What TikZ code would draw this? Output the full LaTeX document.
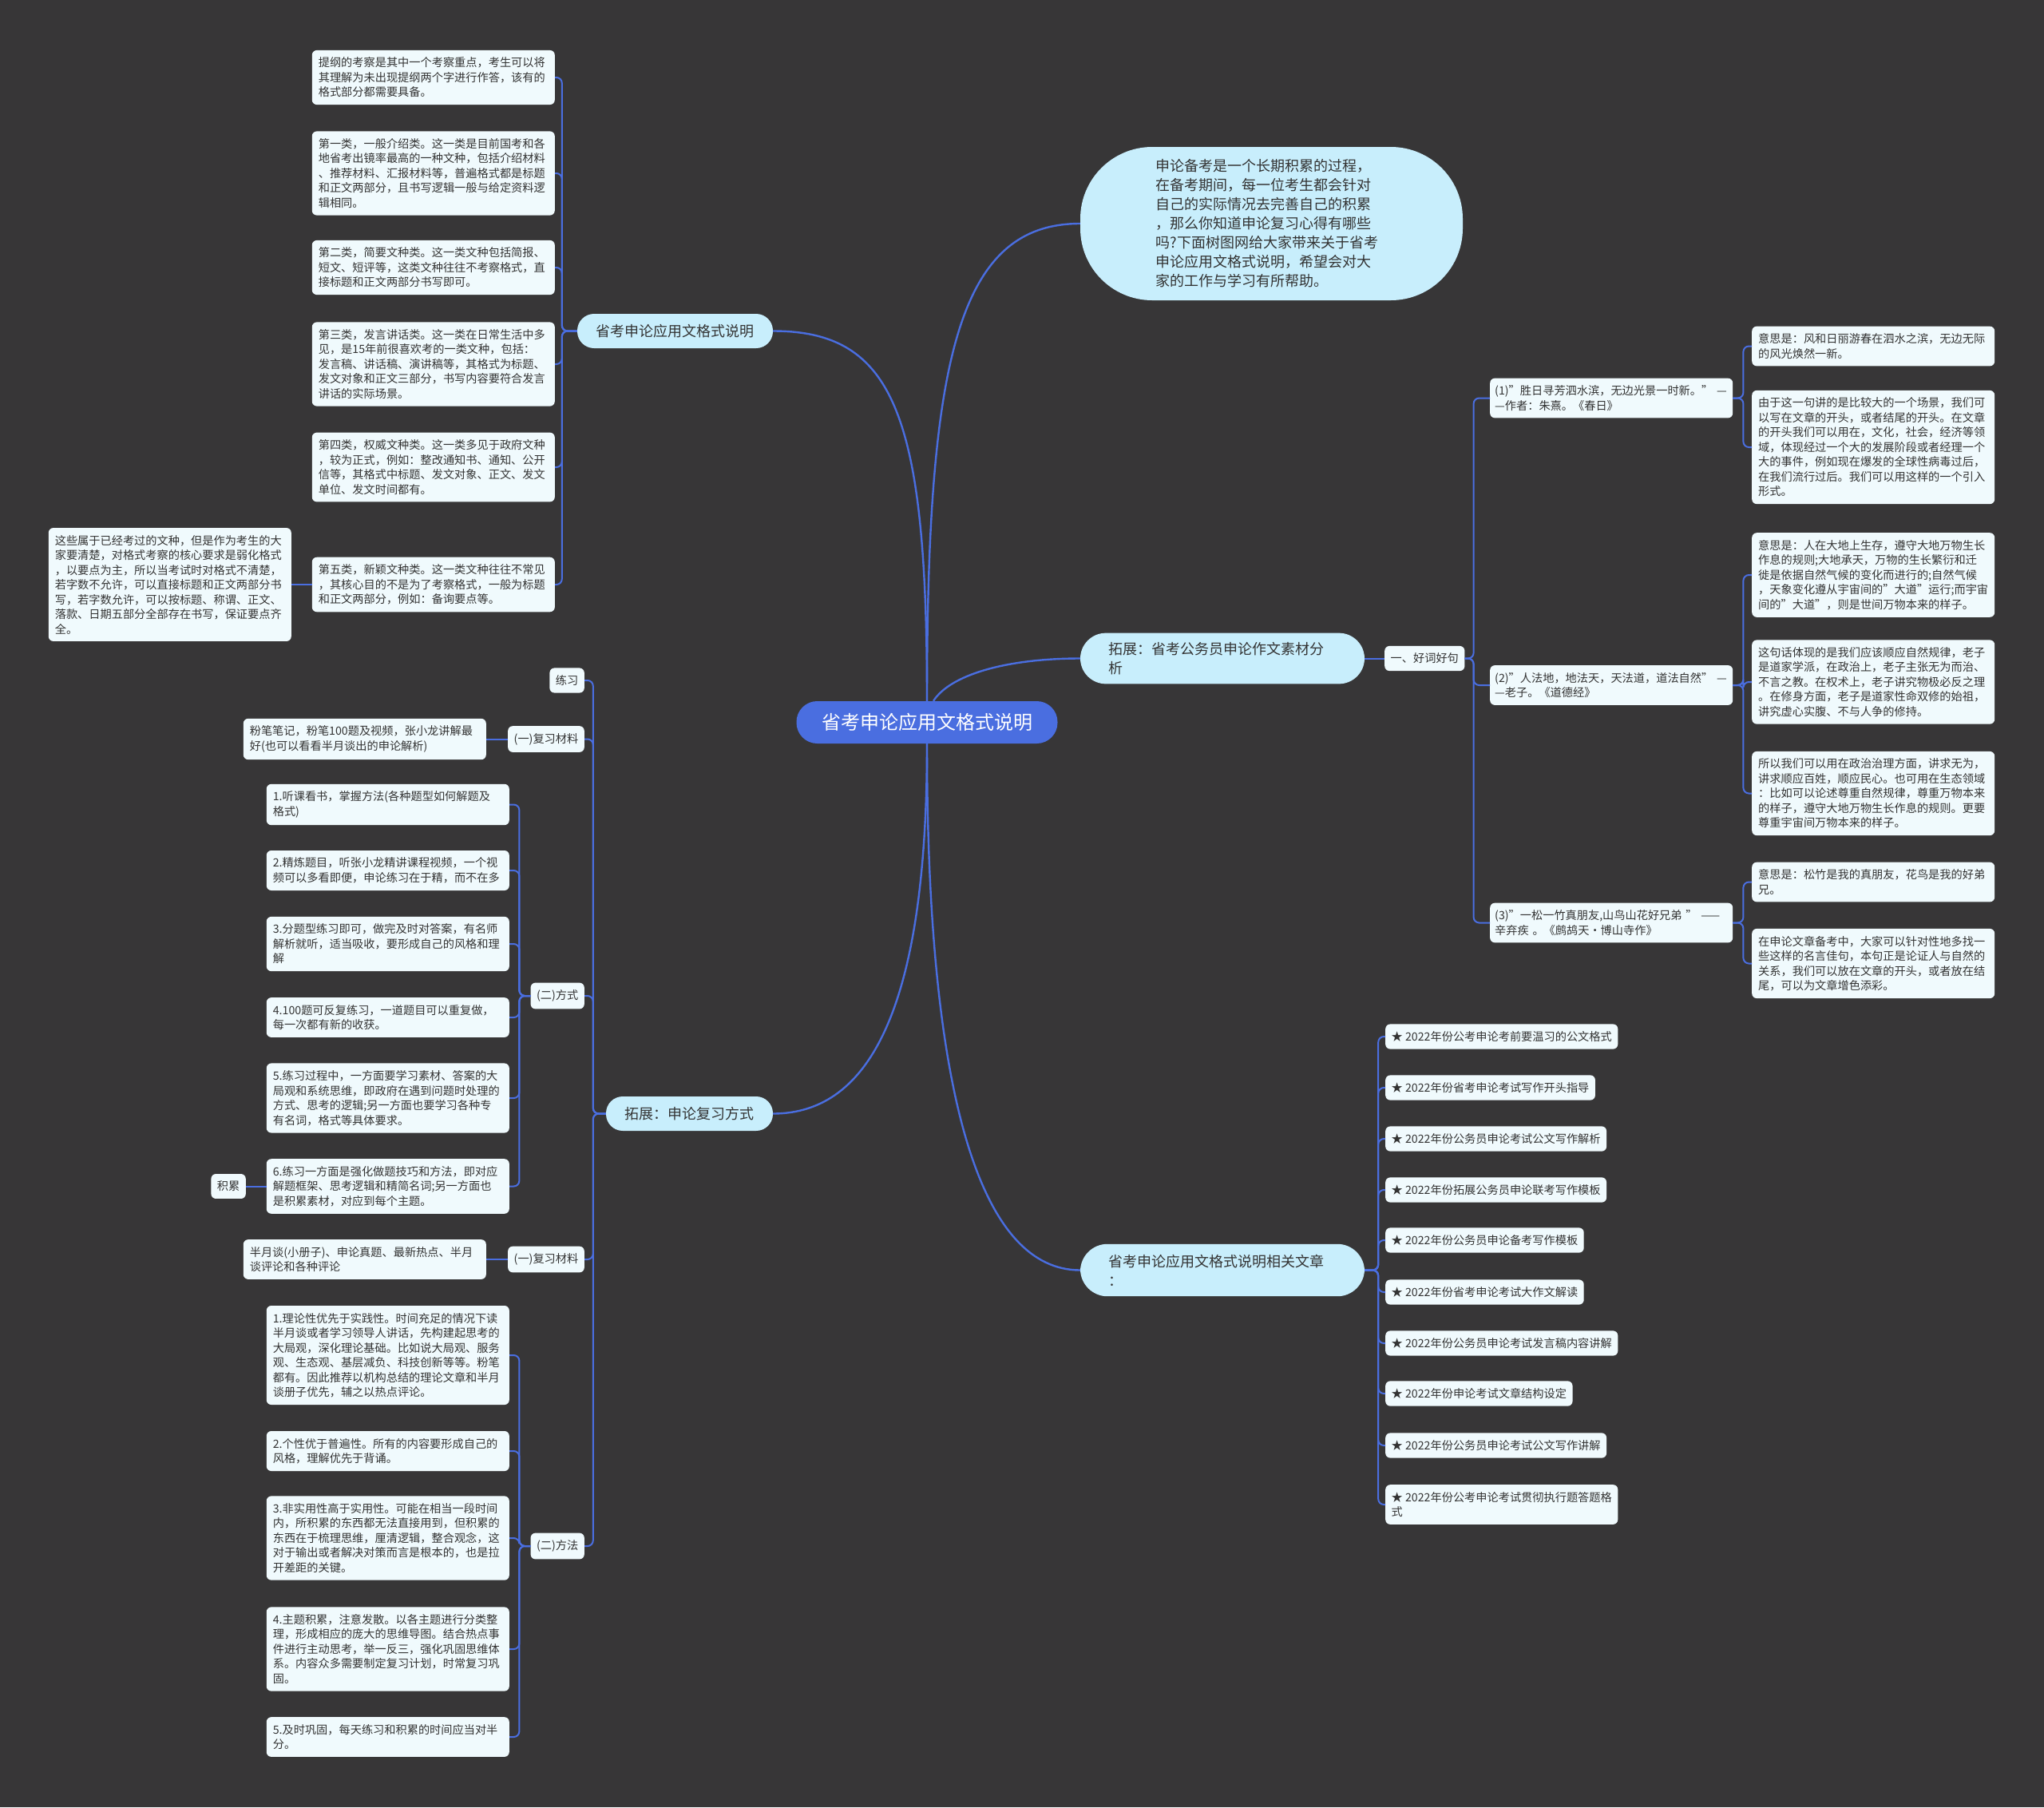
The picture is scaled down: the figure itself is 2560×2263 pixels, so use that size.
\documentclass[tikz,border=0pt]{standalone}
\usepackage{fontspec}
\setmainfont{Noto Sans CJK SC}
\usepackage{xcolor}

\definecolor{bgcol}{HTML}{373637}
\definecolor{linkcol}{HTML}{4A6EE0}
\definecolor{leafcol}{HTML}{F0FAFD}
\definecolor{bubcol}{HTML}{C8EEFC}
\definecolor{textcol}{HTML}{333333}

\tikzset{
  leaf/.style={fill=leafcol, rounded corners=6pt, text=textcol, align=left,
    font=\fontsize{14.2}{18.5}\selectfont, text width=288pt, inner xsep=8pt, inner ysep=9pt},
  quote/.style={leaf, text width=292pt, inner xsep=6pt},
  tag/.style={fill=leafcol, rounded corners=6pt, text=textcol, align=left,
    font=\fontsize{14.2}{18.5}\selectfont, inner xsep=7.5pt, inner ysep=9pt},
  bubble/.style={fill=bubcol, text=textcol, font=\fontsize{18}{24}\selectfont},
  rootbox/.style={fill=linkcol, text=white, font=\fontsize{24}{28}\selectfont,
    minimum width=327pt, minimum height=53pt, rounded corners=26pt},
  link/.style={draw=linkcol, line width=2pt, rounded corners=7pt},
  mainlink/.style={draw=linkcol, line width=2.4pt},
}

\begin{document}
\begin{tikzpicture}[x=1pt,y=-1pt]
  % Fondo
  \fill[bgcol] (0,0) rectangle (2560,2263);
  \useasboundingbox (0,0) rectangle (2560,2263);

  % Nodo central
  \node[rootbox] (root) at (1161,904.5) {省考申论应用文格式说明};

  % Ramas principales
  \node[bubble, minimum width=479pt, minimum height=192pt, rounded corners=90pt,
    text width=290pt, align=left] (intro) at (1592.5,280)
    {申论备考是一个长期积累的过程，\\在备考期间，每一位考生都会针对\\自己的实际情况去完善自己的积累\\，那么你知道申论复习心得有哪些\\吗?下面树图网给大家带来关于省考\\申论应用文格式说明，希望会对大\\家的工作与学习有所帮助。};
  \node[bubble, minimum width=245pt, minimum height=43pt, rounded corners=21pt] (fmt) at (845.5,414.5) {省考申论应用文格式说明};
  \node[bubble, minimum width=209pt, minimum height=43pt, rounded corners=21pt] (rev) at (863.5,1394.5) {拓展：申论复习方式};
  \node[bubble, text width=286pt, align=left, inner xsep=35pt, inner ysep=11.5pt, rounded corners=32pt] (ext) at (1531,824.5) {拓展：省考公务员申论作文素材分\\析};
  \node[bubble, text width=286pt, align=left, inner xsep=35pt, inner ysep=13pt, rounded corners=34pt] (rel) at (1531,1590.5) {省考申论应用文格式说明相关文章\\：};

  \draw[mainlink] (root.north) .. controls (1161,450) and (1200,280) .. (intro.west);
  \draw[mainlink] (root.north) .. controls (1161,520) and (1120,414.5) .. (fmt.east);
  \draw[mainlink] ([xshift=8pt]root.north) .. controls (1190,845) and (1260,824.5) .. (ext.west);
  \draw[mainlink] (root.south) .. controls (1161,1260) and (1090,1394.5) .. (rev.east);
  \draw[mainlink] (root.south) .. controls (1161,1380) and (1230,1590.5) .. (rel.west);

  % Formatos
  \node[leaf, anchor=east] (fmt1) at (695,97) {提纲的考察是其中一个考察重点，考生可以将\\其理解为未出现提纲两个字进行作答，该有的\\格式部分都需要具备。};
  \node[leaf, anchor=east] (fmt2) at (695,217) {第一类，一般介绍类。这一类是目前国考和各\\地省考出镜率最高的一种文种，包括介绍材料\\、推荐材料、汇报材料等，普遍格式都是标题\\和正文两部分，且书写逻辑一般与给定资料逻\\辑相同。};
  \node[leaf, anchor=east] (fmt3) at (695,335) {第二类，简要文种类。这一类文种包括简报、\\短文、短评等，这类文种往往不考察格式，直\\接标题和正文两部分书写即可。};
  \node[leaf, anchor=east] (fmt4) at (695,456) {第三类，发言讲话类。这一类在日常生活中多\\见，是15年前很喜欢考的一类文种，包括：\\发言稿、讲话稿、演讲稿等，其格式为标题、\\发文对象和正文三部分，书写内容要符合发言\\讲话的实际场景。};
  \node[leaf, anchor=east] (fmt5) at (695,585) {第四类，权威文种类。这一类多见于政府文种\\，较为正式，例如：整改通知书、通知、公开\\信等，其格式中标题、发文对象、正文、发文\\单位、发文时间都有。};
  \node[leaf, anchor=east] (fmt6) at (695,732) {第五类，新颖文种类。这一类文种往往不常见\\，其核心目的不是为了考察格式，一般为标题\\和正文两部分，例如：备询要点等。};
  \node[leaf, anchor=east] (fmtnote) at (365,732) {这些属于已经考过的文种，但是作为考生的大\\家要清楚，对格式考察的核心要求是弱化格式\\，以要点为主，所以当考试时对格式不清楚，\\若字数不允许，可以直接标题和正文两部分书\\写，若字数允许，可以按标题、称谓、正文、\\落款、日期五部分全部存在书写，保证要点齐\\全。};

  \foreach \i in {1,...,6}
    \draw[link] (fmt.west) -- ++(-19,0) |- (fmt\i.east);
  \draw[link] (fmt6.west) -- (fmtnote.east);

  % Repaso
  \node[tag, anchor=east] (revpr) at (732,852) {练习};
  \node[tag, anchor=east] (revmat) at (732,925.5) {(一)复习材料};
  \node[tag, anchor=east] (revway) at (732,1247) {(二)方式};
  \node[tag, anchor=east] (revmatb) at (732,1577) {(一)复习材料};
  \node[tag, anchor=east] (revmeth) at (732,1936) {(二)方法};

  \node[leaf, anchor=east] (revmatt) at (609,925.5) {粉笔笔记，粉笔100题及视频，张小龙讲解最\\好(也可以看看半月谈出的申论解析)};
  \node[leaf, anchor=east] (revmatbt) at (609,1577) {半月谈(小册子)、申论真题、最新热点、半月\\谈评论和各种评论};

  \node[leaf, anchor=east] (way1) at (638,1007.5) {1.听课看书，掌握方法(各种题型如何解题及\\格式)};
  \node[leaf, anchor=east] (way2) at (638,1090) {2.精炼题目，听张小龙精讲课程视频，一个视\\频可以多看即便，申论练习在于精，而不在多};
  \node[leaf, anchor=east] (way3) at (638,1182) {3.分题型练习即可，做完及时对答案，有名师\\解析就听，适当吸收，要形成自己的风格和理\\解};
  \node[leaf, anchor=east] (way4) at (638,1274) {4.100题可反复练习，一道题目可以重复做，\\每一次都有新的收获。};
  \node[leaf, anchor=east] (way5) at (638,1375) {5.练习过程中，一方面要学习素材、答案的大\\局观和系统思维，即政府在遇到问题时处理的\\方式、思考的逻辑;另一方面也要学习各种专\\有名词，格式等具体要求。};
  \node[leaf, anchor=east] (way6) at (638,1485.5) {6.练习一方面是强化做题技巧和方法，即对应\\解题框架、思考逻辑和精简名词;另一方面也\\是积累素材，对应到每个主题。};
  \node[tag, anchor=east] (wayacc) at (308,1485.5) {积累};

  \node[leaf, anchor=east] (meth1) at (638,1697) {1.理论性优先于实践性。时间充足的情况下读\\半月谈或者学习领导人讲话，先构建起思考的\\大局观，深化理论基础。比如说大局观、服务\\观、生态观、基层减负、科技创新等等。粉笔\\都有。因此推荐以机构总结的理论文章和半月\\谈册子优先，辅之以热点评论。};
  \node[leaf, anchor=east] (meth2) at (638,1817) {2.个性优于普遍性。所有的内容要形成自己的\\风格，理解优先于背诵。};
  \node[leaf, anchor=east] (meth3) at (638,1926) {3.非实用性高于实用性。可能在相当一段时间\\内，所积累的东西都无法直接用到，但积累的\\东西在于梳理思维，厘清逻辑，整合观念，这\\对于输出或者解决对策而言是根本的，也是拉\\开差距的关键。};
  \node[leaf, anchor=east] (meth4) at (638,2065) {4.主题积累，注意发散。以各主题进行分类整\\理，形成相应的庞大的思维导图。结合热点事\\件进行主动思考，举一反三，强化巩固思维体\\系。内容众多需要制定复习计划，时常复习巩\\固。};
  \node[leaf, anchor=east] (meth5) at (638,2175) {5.及时巩固，每天练习和积累的时间应当对半\\分。};

  \foreach \n in {revpr,revmat,revway,revmatb,revmeth}
    \draw[link] (rev.west) -- ++(-16,0) |- (\n.east);
  \draw[link] (revmat.west) -- (revmatt.east);
  \draw[link] (revmatb.west) -- (revmatbt.east);
  \foreach \i in {1,...,6}
    \draw[link] (revway.west) -- ++(-14,0) |- (way\i.east);
  \draw[link] (way6.west) -- (wayacc.east);
  \foreach \i in {1,...,5}
    \draw[link] (revmeth.west) -- ++(-14,0) |- (meth\i.east);

  % Frases
  \node[tag, anchor=west] (good) at (1734,824.5) {一、好词好句};
  \draw[link] (ext.east) -- (good.west);

  \node[quote, anchor=west] (q1) at (1866,498.5) {\mbox{(1)"胜日寻芳泗水滨，无边光景一时新。" —}\\—作者：朱熹。《春日》};
  \node[quote, anchor=west] (q2) at (1866,858) {\mbox{(2)"人法地，地法天，天法道，道法自然" —}\\—老子。《道德经》};
  \node[quote, anchor=west] (q3) at (1866,1155.5) {\mbox{(3)"一松一竹真朋友,山鸟山花好兄弟 " ——}\\辛弃疾 。《鹧鸪天·博山寺作》};

  \node[leaf, anchor=west] (q1a) at (2194,433.5) {意思是：风和日丽游春在泗水之滨，无边无际\\的风光焕然一新。};
  \node[leaf, anchor=west] (q1b) at (2194,560) {由于这一句讲的是比较大的一个场景，我们可\\以写在文章的开头，或者结尾的开头。在文章\\的开头我们可以用在，文化，社会，经济等领\\域，体现经过一个大的发展阶段或者经理一个\\大的事件，例如现在爆发的全球性病毒过后，\\在我们流行过后。我们可以用这样的一个引入\\形式。};
  \node[leaf, anchor=west] (q2a) at (2194,720) {意思是：人在大地上生存，遵守大地万物生长\\作息的规则;大地承天，万物的生长繁衍和迁\\徙是依据自然气候的变化而进行的;自然气候\\，天象变化遵从宇宙间的"大道"运行;而宇宙\\间的"大道"，则是世间万物本来的样子。};
  \node[leaf, anchor=west] (q2b) at (2194,854) {这句话体现的是我们应该顺应自然规律，老子\\是道家学派，在政治上，老子主张无为而治、\\不言之教。在权术上，老子讲究物极必反之理\\。在修身方面，老子是道家性命双修的始祖，\\讲究虚心实腹、不与人争的修持。};
  \node[leaf, anchor=west] (q2c) at (2194,993.5) {所以我们可以用在政治治理方面，讲求无为，\\讲求顺应百姓，顺应民心。也可用在生态领域\\：比如可以论述尊重自然规律，尊重万物本来\\的样子，遵守大地万物生长作息的规则。更要\\尊重宇宙间万物本来的样子。};
  \node[leaf, anchor=west] (q3a) at (2194,1104.5) {意思是：松竹是我的真朋友，花鸟是我的好弟\\兄。};
  \node[leaf, anchor=west] (q3b) at (2194,1206.5) {在申论文章备考中，大家可以针对性地多找一\\些这样的名言佳句，本句正是论证人与自然的\\关系，我们可以放在文章的开头，或者放在结\\尾，可以为文章增色添彩。};

  \foreach \n in {q1,q2,q3}
    \draw[link] (good.east) -- ++(11,0) |- (\n.west);
  \foreach \n in {q1a,q1b}
    \draw[link] (q1.east) -- ++(13,0) |- (\n.west);
  \foreach \n in {q2a,q2b,q2c}
    \draw[link] (q2.east) -- ++(13,0) |- (\n.west);
  \foreach \n in {q3a,q3b}
    \draw[link] (q3.east) -- ++(13,0) |- (\n.west);

  % Artículos relacionados
  \foreach \y/\t [count=\i] in {
      1298/{2022年份公考申论考前要温习的公文格式},
      1362/{2022年份省考申论考试写作开头指导},
      1426/{2022年份公务员申论考试公文写作解析},
      1490/{2022年份拓展公务员申论联考写作模板},
      1553/{2022年份公务员申论备考写作模板},
      1618/{2022年份省考申论考试大作文解读},
      1682/{2022年份公务员申论考试发言稿内容讲解},
      1745/{2022年份申论考试文章结构设定},
      1810/{2022年份公务员申论考试公文写作讲解},
      1884/{2022年份公考申论考试贯彻执行题答题格\\式}}
    {
      \node[tag, anchor=west] (art\i) at (1735,\y) {★ \t};
      \draw[link] (rel.east) -- ++(17,0) |- (art\i.west);
    }
\end{tikzpicture}
\end{document}
